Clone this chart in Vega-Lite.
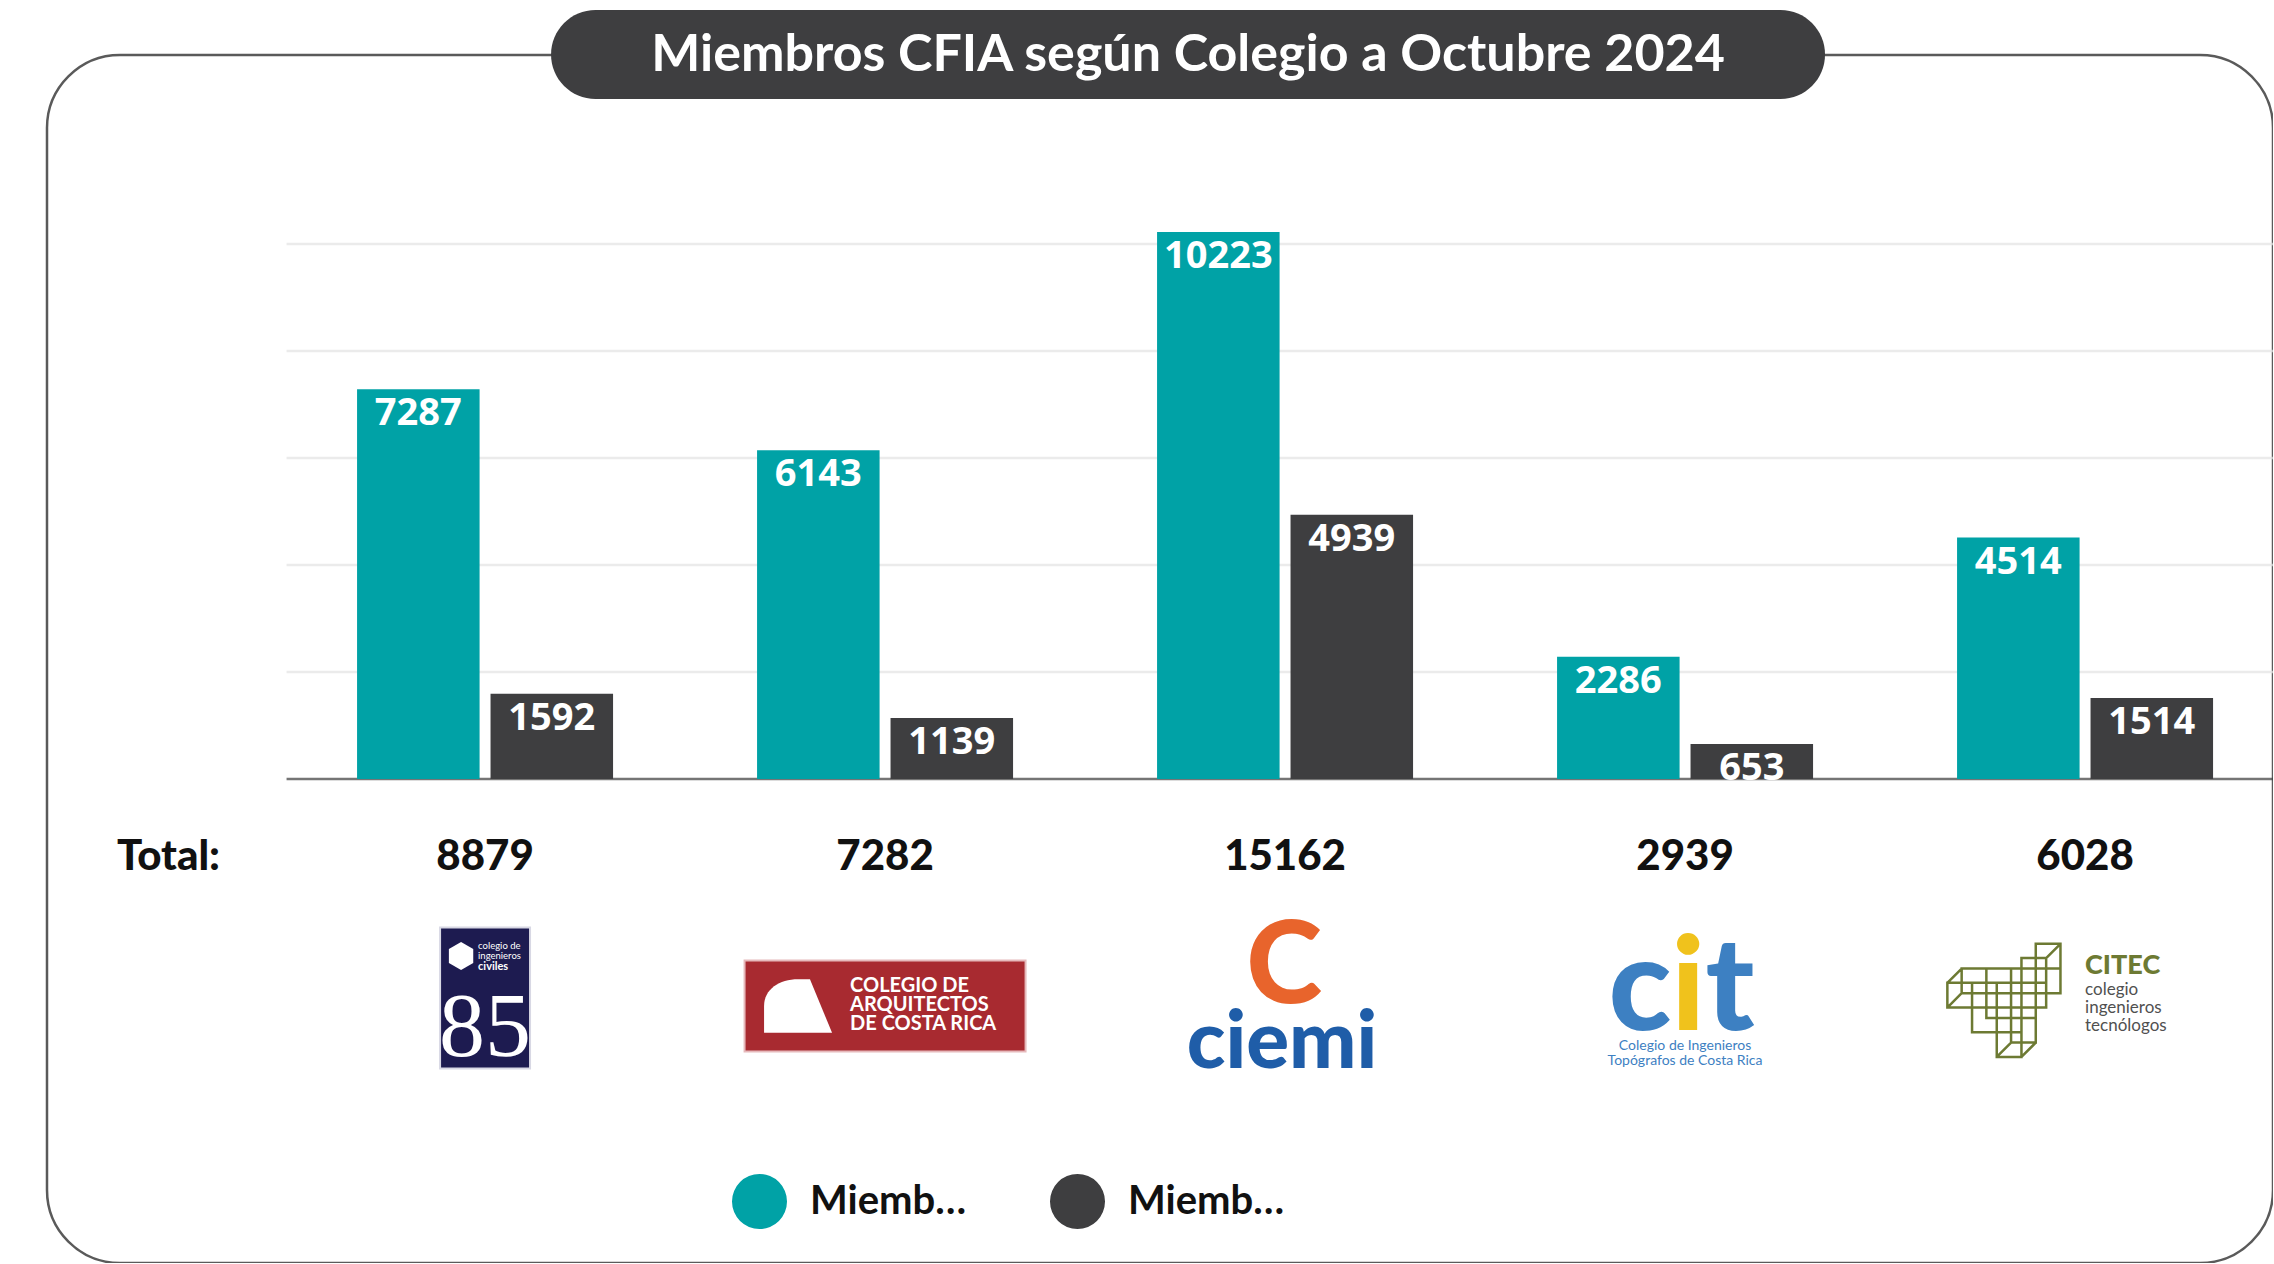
{
  "$schema": "https://vega.github.io/schema/vega-lite/v6.json",
  "width": 2226,
  "height": 1208,
  "autosize": {"type": "none"},
  "padding": {"left": 47, "top": 55, "right": 0, "bottom": 0},
  "background": "#ffffff",
  "config": {
    "view": {"stroke": "#5a5a5a", "strokeWidth": 2.5, "cornerRadius": 73},
    "font": "Lato"
  },
  "datasets": {
    "miembros": [
      {"colegio": "CIC", "estado": "Miembros Activos", "miembros": 7287},
      {"colegio": "CIC", "estado": "Miembros Inactivos", "miembros": 1592},
      {"colegio": "CACR", "estado": "Miembros Activos", "miembros": 6143},
      {"colegio": "CACR", "estado": "Miembros Inactivos", "miembros": 1139},
      {"colegio": "CIEMI", "estado": "Miembros Activos", "miembros": 10223},
      {"colegio": "CIEMI", "estado": "Miembros Inactivos", "miembros": 4939},
      {"colegio": "CIT", "estado": "Miembros Activos", "miembros": 2286},
      {"colegio": "CIT", "estado": "Miembros Inactivos", "miembros": 653},
      {"colegio": "CITEC", "estado": "Miembros Activos", "miembros": 4514},
      {"colegio": "CITEC", "estado": "Miembros Inactivos", "miembros": 1514}
    ],
    "totales": [
      {"colegio": "CIC", "total": 8879},
      {"colegio": "CACR", "total": 7282},
      {"colegio": "CIEMI", "total": 15162},
      {"colegio": "CIT", "total": 2939},
      {"colegio": "CITEC", "total": 6028}
    ],
    "rejilla": [
      {"colegio": "CIEMI", "valor": 2000}, {"colegio": "CIEMI", "valor": 4000}, {"colegio": "CIEMI", "valor": 6000},
      {"colegio": "CIEMI", "valor": 8000}, {"colegio": "CIEMI", "valor": 10000}
    ]
  },
  "layer": [
    {
      "data": {"name": "rejilla"},
      "mark": {"type": "tick", "color": "#e2e2e2", "thickness": 2.5, "size": 1997, "orient": "horizontal"},
      "encoding": {
        "y": {"field": "valor", "type": "quantitative", "axis": null},
        "x": {"field": "colegio", "type": "nominal", "bandPosition": 0.393, "axis": null}
      }
    },
    {
      "data": {"values": [{"colegio": "CIEMI", "valor": 0}]},
      "mark": {"type": "tick", "color": "#3b3b3b", "thickness": 2.5, "size": 1997, "orient": "horizontal"},
      "encoding": {
        "y": {"field": "valor", "type": "quantitative", "axis": null},
        "x": {"field": "colegio", "type": "nominal", "bandPosition": 0.393, "axis": null}
      }
    },
    {
      "data": {"name": "miembros"},
      "mark": {"type": "bar"},
      "encoding": {
        "x": {"field": "colegio", "type": "nominal", "axis": null,
              "scale": {"domain": ["CIC", "CACR", "CIEMI", "CIT", "CITEC"], "paddingInner": 0.36, "paddingOuter": 0.4625, "align": 0.838}},
        "xOffset": {"field": "estado", "type": "nominal", "scale": {"domain": ["Miembros Activos", "Miembros Inactivos"], "paddingInner": 0.082, "paddingOuter": 0}},
        "y": {"field": "miembros", "type": "quantitative",
              "scale": {"domain": [-9047, 13533], "nice": false, "zero": false},
              "axis": {
                "title": null,
                "values": [0, 2000, 4000, 6000, 8000, 10000],
                "labelExpr": "format(datum.value / 1000, 'd') + ' mil'",
                "domain": false, "ticks": false, "grid": false,
                "offset": -212, "labelPadding": 39,
                "labelFont": "Lato", "labelFontSize": 36, "labelFontWeight": 400,
                "labelColor": "#111111"
              }},
        "color": {"field": "estado", "type": "nominal",
                  "scale": {"domain": ["Miembros Activos", "Miembros Inactivos"], "range": ["#00a2a6", "#3e3e40"]},
                  "legend": {
                    "title": null, "orient": "none", "legendX": 685, "legendY": 1119, "direction": "horizontal",
                    "symbolType": "circle", "symbolSize": 3025, "symbolStrokeWidth": 0, "symbolOpacity": 1,
                    "labelFont": "Lato", "labelFontSize": 40, "labelFontWeight": "bold", "labelColor": "#111111",
                    "labelOffset": 23, "columnPadding": 83, "padding": 0
                  }}
      }
    },
    {
      "data": {"name": "miembros"},
      "mark": {"type": "text", "color": "#ffffff", "fontWeight": "bold", "fontSize": 38, "font": "Open Sans", "baseline": "top", "dy": 6},
      "encoding": {
        "x": {"field": "colegio", "type": "nominal", "axis": null},
        "xOffset": {"field": "estado", "type": "nominal"},
        "y": {"field": "miembros", "type": "quantitative", "axis": null},
        "text": {"field": "miembros", "type": "quantitative", "format": "d"}
      }
    },
    {
      "data": {"name": "totales"},
      "mark": {"type": "text", "fontSize": 42, "fontWeight": 900, "color": "#111111", "baseline": "middle", "font": "Lato"},
      "encoding": {
        "x": {"field": "colegio", "type": "nominal", "axis": null},
        "y": {"datum": -1458, "type": "quantitative", "axis": null},
        "text": {"field": "total", "type": "quantitative", "format": "d"}
      }
    },
    {
      "data": {"values": [{"colegio": "CIC", "etiqueta": "Total:"}]},
      "mark": {"type": "text", "fontSize": 42, "fontWeight": 900, "color": "#111111", "baseline": "middle", "align": "right", "font": "Lato"},
      "encoding": {
        "x": {"field": "colegio", "type": "nominal", "bandPosition": -0.535, "axis": null},
        "y": {"datum": -1458, "type": "quantitative", "axis": null},
        "text": {"field": "etiqueta", "type": "nominal"}
      }
    },
    {
      "data": {"values": [{"colegio": "CIEMI"}]},
      "mark": {"type": "point", "filled": true, "opacity": 1, "strokeWidth": 0, "color": "#3e3e40", "size": 1623076,
               "shape": "M-0.9301,-0.0699L0.9301,-0.0699C0.9687,-0.0699,1,-0.0386,1,0C1,0.0386,0.9687,0.0699,0.9301,0.0699L-0.9301,0.0699C-0.9687,0.0699,-1,0.0386,-1,0C-1,-0.0386,-0.9687,-0.0699,-0.9301,-0.0699Z"},
      "encoding": {
        "x": {"field": "colegio", "type": "nominal", "bandPosition": 0.121, "axis": null},
        "y": {"datum": 13542, "type": "quantitative", "axis": null}
      }
    },
    {
      "data": {"values": [{"colegio": "CIEMI", "titulo": "Miembros CFIA según Colegio a Octubre 2024"}]},
      "mark": {"type": "text", "fontSize": 52, "fontWeight": "bold", "color": "#ffffff", "baseline": "middle", "font": "Lato"},
      "encoding": {
        "x": {"field": "colegio", "type": "nominal", "bandPosition": 0.121, "axis": null},
        "y": {"datum": 13542, "type": "quantitative", "axis": null},
        "text": {"field": "titulo", "type": "nominal"}
      }
    },
    {
      "data": {"values": [{"colegio": "CIC"}]},
      "mark": {"type": "point", "filled": true, "opacity": 1, "color": "#1d1b50", "stroke": "#d8d8e4", "strokeWidth": 2, "size": 19881,
               "shape": "M-0.638,-1L0.638,-1L0.638,1L-0.638,1Z"},
      "encoding": {"x": {"field": "colegio", "type": "nominal", "axis": null}, "y": {"datum": -4094, "type": "quantitative", "axis": null}}
    },
    {
      "data": {"values": [{"colegio": "CIC"}]},
      "mark": {"type": "point", "filled": true, "opacity": 1, "color": "#ffffff", "strokeWidth": 0, "size": 784, "xOffset": -24,
               "shape": "M0,-1L0.87,-0.5L0.87,0.5L0,1L-0.87,0.5L-0.87,-0.5Z"},
      "encoding": {"x": {"field": "colegio", "type": "nominal", "axis": null}, "y": {"datum": -3308, "type": "quantitative", "axis": null}}
    },
    {
      "data": {"values": [{"colegio": "CIC", "t": "colegio de"}]},
      "mark": {"type": "text", "fontSize": 9.5, "color": "#ffffff", "align": "left", "baseline": "middle", "dx": -7},
      "encoding": {"x": {"field": "colegio", "type": "nominal", "axis": null}, "y": {"datum": -3121, "type": "quantitative", "axis": null}, "text": {"field": "t", "type": "nominal"}}
    },
    {
      "data": {"values": [{"colegio": "CIC", "t": "ingenieros"}]},
      "mark": {"type": "text", "fontSize": 9.5, "color": "#ffffff", "align": "left", "baseline": "middle", "dx": -7},
      "encoding": {"x": {"field": "colegio", "type": "nominal", "axis": null}, "y": {"datum": -3308, "type": "quantitative", "axis": null}, "text": {"field": "t", "type": "nominal"}}
    },
    {
      "data": {"values": [{"colegio": "CIC", "t": "civiles"}]},
      "mark": {"type": "text", "fontSize": 11, "fontWeight": "bold", "color": "#ffffff", "align": "left", "baseline": "middle", "dx": -7},
      "encoding": {"x": {"field": "colegio", "type": "nominal", "axis": null}, "y": {"datum": -3515, "type": "quantitative", "axis": null}, "text": {"field": "t", "type": "nominal"}}
    },
    {
      "data": {"values": [{"colegio": "CIC", "t": "85"}]},
      "mark": {"type": "text", "font": "Liberation Serif", "fontSize": 92, "color": "#ffffff", "baseline": "middle"},
      "encoding": {"x": {"field": "colegio", "type": "nominal", "axis": null}, "y": {"datum": -4654, "type": "quantitative", "axis": null}, "text": {"field": "t", "type": "nominal"}}
    },
    {
      "data": {"values": [{"colegio": "CACR"}]},
      "mark": {"type": "point", "filled": true, "opacity": 1, "color": "#a82a30", "stroke": "#e6b9bb", "strokeWidth": 2, "size": 78961,
               "shape": "M-1,-0.324L1,-0.324L1,0.324L-1,0.324Z"},
      "encoding": {"x": {"field": "colegio", "type": "nominal", "axis": null}, "y": {"datum": -4243, "type": "quantitative", "axis": null}}
    },
    {
      "data": {"values": [{"colegio": "CACR"}]},
      "mark": {"type": "point", "filled": true, "opacity": 1, "color": "#ffffff", "strokeWidth": 0, "size": 4624, "xOffset": -87,
               "shape": "M-1,0.79L-1,0C-1,-0.5,-0.55,-0.79,0,-0.79L0.35,-0.79L1,0.79Z"},
      "encoding": {"x": {"field": "colegio", "type": "nominal", "axis": null}, "y": {"datum": -4243, "type": "quantitative", "axis": null}}
    },
    {
      "data": {"values": [{"colegio": "CACR", "t": "COLEGIO DE"}]},
      "mark": {"type": "text", "fontSize": 20, "fontWeight": "bold", "color": "#ffffff", "align": "left", "baseline": "middle", "dx": -35},
      "encoding": {"x": {"field": "colegio", "type": "nominal", "axis": null}, "y": {"datum": -3860, "type": "quantitative", "axis": null}, "text": {"field": "t", "type": "nominal"}}
    },
    {
      "data": {"values": [{"colegio": "CACR", "t": "ARQUITECTOS"}]},
      "mark": {"type": "text", "fontSize": 20, "fontWeight": "bold", "color": "#ffffff", "align": "left", "baseline": "middle", "dx": -35},
      "encoding": {"x": {"field": "colegio", "type": "nominal", "axis": null}, "y": {"datum": -4224, "type": "quantitative", "axis": null}, "text": {"field": "t", "type": "nominal"}}
    },
    {
      "data": {"values": [{"colegio": "CACR", "t": "DE COSTA RICA"}]},
      "mark": {"type": "text", "fontSize": 20, "fontWeight": "bold", "color": "#ffffff", "align": "left", "baseline": "middle", "dx": -35},
      "encoding": {"x": {"field": "colegio", "type": "nominal", "axis": null}, "y": {"datum": -4588, "type": "quantitative", "axis": null}, "text": {"field": "t", "type": "nominal"}}
    },
    {
      "data": {"values": [{"colegio": "CIEMI", "t": "C"}]},
      "mark": {"type": "text", "fontSize": 115, "fontWeight": 900, "color": "#e8642c", "baseline": "middle", "dx": -1},
      "encoding": {"x": {"field": "colegio", "type": "nominal", "axis": null}, "y": {"datum": -3533, "type": "quantitative", "axis": null}, "text": {"field": "t", "type": "nominal"}}
    },
    {
      "data": {"values": [{"colegio": "CIEMI", "t": "ciemi"}]},
      "mark": {"type": "text", "fontSize": 80, "fontWeight": 900, "color": "#1f5da8", "baseline": "alphabetic", "dx": -3},
      "encoding": {"x": {"field": "colegio", "type": "nominal", "axis": null}, "y": {"datum": -5402, "type": "quantitative", "axis": null}, "text": {"field": "t", "type": "nominal"}}
    },
    {
      "data": {"values": [{"colegio": "CIT", "t": "c"}]},
      "mark": {"type": "text", "fontSize": 130, "fontWeight": 900, "color": "#3d80c2", "baseline": "alphabetic", "dx": -45},
      "encoding": {"x": {"field": "colegio", "type": "nominal", "axis": null}, "y": {"datum": -4692, "type": "quantitative", "axis": null}, "text": {"field": "t", "type": "nominal"}}
    },
    {
      "data": {"values": [{"colegio": "CIT", "t": "i"}]},
      "mark": {"type": "text", "fontSize": 130, "fontWeight": 900, "color": "#f0c21c", "baseline": "alphabetic", "dx": 3},
      "encoding": {"x": {"field": "colegio", "type": "nominal", "axis": null}, "y": {"datum": -4692, "type": "quantitative", "axis": null}, "text": {"field": "t", "type": "nominal"}}
    },
    {
      "data": {"values": [{"colegio": "CIT", "t": "t"}]},
      "mark": {"type": "text", "fontSize": 130, "fontWeight": 900, "color": "#3d80c2", "baseline": "alphabetic", "dx": 45},
      "encoding": {"x": {"field": "colegio", "type": "nominal", "axis": null}, "y": {"datum": -4692, "type": "quantitative", "axis": null}, "text": {"field": "t", "type": "nominal"}}
    },
    {
      "data": {"values": [{"colegio": "CIT", "t": "Colegio de Ingenieros"}]},
      "mark": {"type": "text", "fontSize": 14, "color": "#3d80c2", "baseline": "middle"},
      "encoding": {"x": {"field": "colegio", "type": "nominal", "axis": null}, "y": {"datum": -4982, "type": "quantitative", "axis": null}, "text": {"field": "t", "type": "nominal"}}
    },
    {
      "data": {"values": [{"colegio": "CIT", "t": "Topógrafos de Costa Rica"}]},
      "mark": {"type": "text", "fontSize": 14, "color": "#3d80c2", "baseline": "middle"},
      "encoding": {"x": {"field": "colegio", "type": "nominal", "axis": null}, "y": {"datum": -5262, "type": "quantitative", "axis": null}, "text": {"field": "t", "type": "nominal"}}
    },
    {
      "data": {"values": [{"colegio": "CITEC"}]},
      "mark": {"type": "point", "filled": false, "opacity": 1, "color": "#6d7a33", "strokeWidth": 2.5, "size": 16900, "xOffset": -74,
               "shape": "M-0.98,-0.28h0.38v0.38h-0.38ZM-0.6,-0.28h0.38v0.38h-0.38ZM-0.6,0.1h0.38v0.38h-0.38ZM-0.22,-0.28h0.38v0.38h-0.38ZM-0.22,0.1h0.38v0.38h-0.38ZM-0.22,0.48h0.38v0.38h-0.38ZM0.16,-0.66h0.38v0.38h-0.38ZM0.16,-0.28h0.38v0.38h-0.38ZM-0.76,-0.5h0.38v0.38h-0.38ZM-0.38,-0.5h0.38v0.38h-0.38ZM-0.38,-0.12h0.38v0.38h-0.38ZM0,-0.5h0.38v0.38h-0.38ZM0,-0.12h0.38v0.38h-0.38ZM0,0.26h0.38v0.38h-0.38ZM0.38,-0.88h0.38v0.38h-0.38ZM0.38,-0.5h0.38v0.38h-0.38ZM-0.98,-0.28l0.22,-0.22M-0.98,0.1l0.22,-0.22M0.54,-0.66l0.22,-0.22M-0.22,0.86l0.22,-0.22M0.16,0.86l0.22,-0.22"},
      "encoding": {"x": {"field": "colegio", "type": "nominal", "axis": null}, "y": {"datum": -4150, "type": "quantitative", "axis": null}}
    },
    {
      "data": {"values": [{"colegio": "CITEC", "t": "CITEC"}]},
      "mark": {"type": "text", "fontSize": 27, "fontWeight": 900, "color": "#6d7a33", "align": "left", "baseline": "middle"},
      "encoding": {"x": {"field": "colegio", "type": "nominal", "axis": null}, "y": {"datum": -3495, "type": "quantitative", "axis": null}, "text": {"field": "t", "type": "nominal"}}
    },
    {
      "data": {"values": [{"colegio": "CITEC", "t": "colegio"}]},
      "mark": {"type": "text", "fontSize": 17, "color": "#505050", "align": "left", "baseline": "middle"},
      "encoding": {"x": {"field": "colegio", "type": "nominal", "axis": null}, "y": {"datum": -3944, "type": "quantitative", "axis": null}, "text": {"field": "t", "type": "nominal"}}
    },
    {
      "data": {"values": [{"colegio": "CITEC", "t": "ingenieros"}]},
      "mark": {"type": "text", "fontSize": 17, "color": "#505050", "align": "left", "baseline": "middle"},
      "encoding": {"x": {"field": "colegio", "type": "nominal", "axis": null}, "y": {"datum": -4280, "type": "quantitative", "axis": null}, "text": {"field": "t", "type": "nominal"}}
    },
    {
      "data": {"values": [{"colegio": "CITEC", "t": "tecnólogos"}]},
      "mark": {"type": "text", "fontSize": 17, "color": "#505050", "align": "left", "baseline": "middle"},
      "encoding": {"x": {"field": "colegio", "type": "nominal", "axis": null}, "y": {"datum": -4616, "type": "quantitative", "axis": null}, "text": {"field": "t", "type": "nominal"}}
    }
  ]
}
